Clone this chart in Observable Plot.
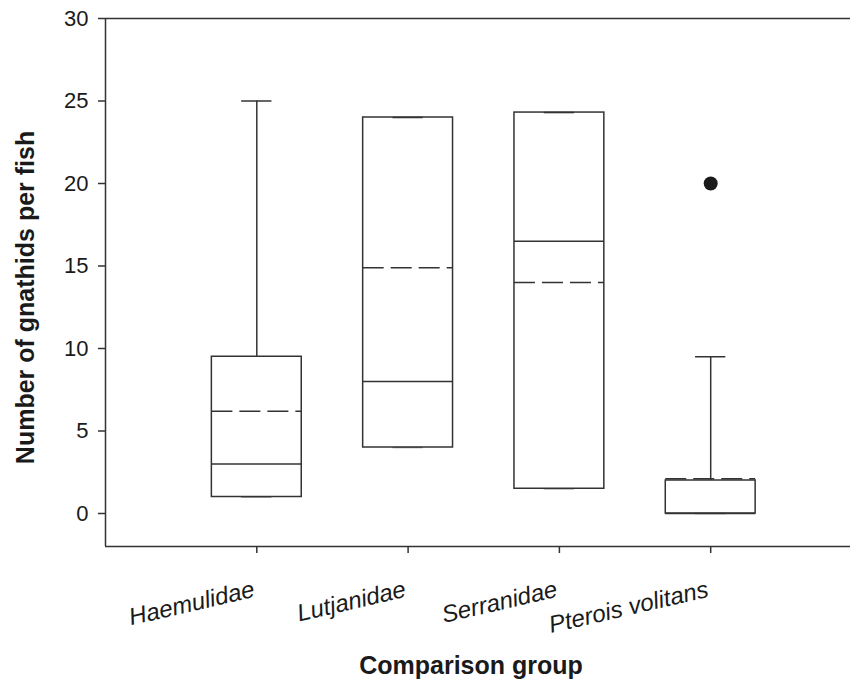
<!DOCTYPE html>
<html>
<head>
<meta charset="utf-8">
<script src="https://cdn.jsdelivr.net/npm/d3@7"></script>
<script src="https://cdn.jsdelivr.net/npm/@observablehq/plot@0.6"></script>
<style>
  html, body { margin: 0; padding: 0; background: white; }
</style>
</head>
<body>
<div id="chart"></div>
<script>
// ---- data ----
const groups = ["Haemulidae", "Lutjanidae", "Serranidae", "Pterois volitans"];
const q1 = [1, 4, 1.5, 0];
const medians = [3, 8, 16.5, 0];
const q3 = [9.5, 24, 24.3, 2];
const means = [6.2, 14.9, 14.0, 2.1];
const whiskerLow = [1, 4, 1.5, 0];
const whiskerHigh = [25, 24, 24.3, 9.5];
const outlierGroups = ["Pterois volitans"];
const outlierValues = [20];
const yTicks = [0, 5, 10, 15, 20, 25, 30];
const yDomain = [-2, 30];
const xLabel = "Comparison group";
const yLabel = "Number of gnathids per fish";

// ---- table built from arrays ----
const table = groups.map((g, k) => ({
  group: g, i: k + 1,
  q1: q1[k], median: medians[k], q3: q3[k], mean: means[k],
  lo: whiskerLow[k], hi: whiskerHigh[k]
}));
const outliers = outlierGroups.map((g, k) => ({ i: groups.indexOf(g) + 1, value: outlierValues[k] }));

const hw = 0.297;   // half box width (in category units)
const cw = 0.1;     // half cap width
const ink = "#333";
const sw = 1.5;

const chart = Plot.plot({
  width: 850,
  height: 680,
  marginLeft: 105,
  marginRight: 0,
  marginTop: 18,
  marginBottom: 134,
  style: { fontFamily: "'Liberation Sans', Arial, Helvetica, sans-serif", background: "white", color: "#1a1a1a" },
  x: { domain: [0, 4.924] },
  y: { domain: yDomain },
  marks: [
    // frame lines (top, bottom, left)
    Plot.ruleY(yDomain, { stroke: ink, strokeWidth: sw }),
    Plot.ruleX([0], { stroke: ink, strokeWidth: sw }),
    // axes
    Plot.axisY({ ticks: yTicks, tickSize: 7, tickPadding: 10, fontSize: 22, label: null, stroke: ink, strokeWidth: sw }),
    Plot.axisX({ ticks: table.map(d => d.i), tickSize: 7, tickFormat: () => "", label: null, stroke: ink, strokeWidth: sw }),
    // whiskers
    Plot.ruleX(table, { x: "i", y1: "q3", y2: "hi", stroke: ink, strokeWidth: sw }),
    Plot.ruleX(table, { x: "i", y1: "q1", y2: "lo", stroke: ink, strokeWidth: sw }),
    Plot.ruleY(table, { x1: d => d.i - cw, x2: d => d.i + cw, y: "hi", stroke: ink, strokeWidth: sw }),
    Plot.ruleY(table, { x1: d => d.i - cw, x2: d => d.i + cw, y: "lo", stroke: "#888", strokeWidth: sw }),
    // boxes
    Plot.rect(table, { x1: d => d.i - hw, x2: d => d.i + hw, y1: "q1", y2: "q3", fill: "none", stroke: ink, strokeWidth: sw }),
    // medians
    Plot.ruleY(table, { x1: d => d.i - hw, x2: d => d.i + hw, y: "median", stroke: ink, strokeWidth: sw }),
    // means (dashed)
    Plot.ruleY(table, { x1: d => d.i - hw, x2: d => d.i + hw, y: "mean", stroke: ink, strokeWidth: sw, strokeDasharray: "21,7" }),
    // outliers
    Plot.dot(outliers, { x: "i", y: "value", r: 7, fill: "#1a1a1a", stroke: "none" }),
    // category labels
    Plot.text(table, { x: "i", text: "group", frameAnchor: "bottom", dx: -1, dy: 50, rotate: -13,
      textAnchor: "end", lineAnchor: "bottom", fontStyle: "italic", fontSize: 24, fill: "#1a1a1a" }),
    // axis titles
    Plot.text([xLabel], { text: d => d, frameAnchor: "bottom", textAnchor: "middle", dx: -7, dy: 127, lineAnchor: "bottom",
      fontWeight: "bold", fontSize: 25, fill: "#1a1a1a" }),
    Plot.text([yLabel], { text: d => d, frameAnchor: "left", textAnchor: "middle", dx: -72, dy: 15, rotate: -90, lineAnchor: "bottom",
      fontWeight: "bold", fontSize: 25, fill: "#1a1a1a" })
  ]
});
document.getElementById("chart").appendChild(chart);
</script>
</body>
</html>
